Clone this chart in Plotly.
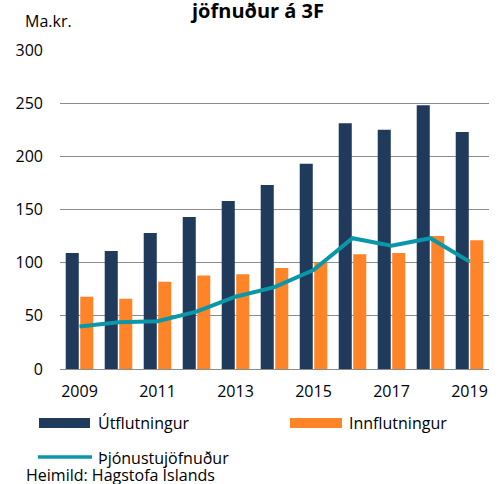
import plotly.graph_objects as go

years = [str(y) for y in range(2009, 2020)]
tick_labels = ["2009", "2011", "2013", "2015", "2017", "2019"]
utflutningur = [109, 111, 128, 143, 158, 173, 193, 231, 225, 248, 223]
innflutningur = [68, 66, 82, 88, 89, 95, 100, 108, 109, 125, 121]
thjonustujofnudur = [40, 44, 45, 54, 68, 77, 93, 123, 116, 123, 101]
series_names = ["Útflutningur", "Innflutningur", "Þjónustujöfnuður"]
y_ticks = [0, 50, 100, 150, 200, 250, 300]

NAVY = "#1F3A5A"
ORANGE = "#FF8427"
TEAL = "#0A97A8"
FONT = "Open Sans"
FS = 16

W, H = 501, 484
ML, MR, MT, MB = 60, 12, 50, 115
PW, PH = W - ML - MR, H - MT - MB

def px(x):
    return (x - ML) / PW

def py(y):
    return (H - MB - y) / PH

fig = go.Figure()
fig.add_trace(go.Bar(x=years, y=utflutningur, name=series_names[0],
                     marker=dict(color=NAVY, line=dict(width=0))))
fig.add_trace(go.Bar(x=years, y=innflutningur, name=series_names[1],
                     marker=dict(color=ORANGE, line=dict(width=0))))
fig.add_trace(go.Scatter(x=years, y=thjonustujofnudur, name=series_names[2],
                         mode="lines", line=dict(color=TEAL, width=4)))

shapes = [
    dict(type="rect", xref="paper", yref="paper", x0=px(39), x1=px(90), y0=py(428), y1=py(418),
         fillcolor=NAVY, line=dict(width=0)),
    dict(type="rect", xref="paper", yref="paper", x0=px(290), x1=px(342), y0=py(428), y1=py(418),
         fillcolor=ORANGE, line=dict(width=0)),
    dict(type="line", xref="paper", yref="paper", x0=px(38), x1=px(92), y0=py(457), y1=py(457),
         line=dict(color=TEAL, width=3.5)),
]

annotations = [
    dict(text="Ma.kr.", x=px(23), y=py(21), xanchor="left", yanchor="middle"),
    dict(text="<b>jöfnuður á 3F</b>", x=px(257), y=py(10),
         xanchor="center", yanchor="middle", font=dict(size=20, color="#000000", family=FONT)),
    dict(text=series_names[0], x=px(96), y=py(423), xanchor="left", yanchor="middle"),
    dict(text=series_names[1], x=px(347), y=py(423), xanchor="left", yanchor="middle"),
    dict(text=series_names[2], x=px(96), y=py(458), xanchor="left", yanchor="middle"),
    dict(text="Heimild: Hagstofa Íslands", x=px(24), y=py(475), xanchor="left", yanchor="middle"),
]
for a in annotations:
    a.update(xref="paper", yref="paper", showarrow=False)
    a.setdefault("font", dict(size=FS, color="#000000", family=FONT))

fig.update_layout(
    width=W, height=H,
    margin=dict(l=ML, r=MR, t=MT, b=MB, pad=0),
    paper_bgcolor="white", plot_bgcolor="white",
    showlegend=False,
    barmode="group", bargap=0.256, bargroupgap=0.1,
    font=dict(family=FONT, size=FS, color="#000000"),
    shapes=shapes, annotations=annotations,
)
fig.update_xaxes(type="category", tickmode="array", tickvals=tick_labels, ticktext=tick_labels,
                 showgrid=False, showline=False, ticks="", ticklabelstandoff=11,
                 tickfont=dict(size=FS, family=FONT, color="#000000"))
fig.update_yaxes(range=[0, 300], tickmode="array", tickvals=y_ticks,
                 showgrid=True, gridcolor="#8C8C8C", gridwidth=1.3, zeroline=True,
                 zerolinecolor="#8C8C8C", zerolinewidth=1.3, showline=False, ticks="",
                 ticklabelstandoff=16, tickfont=dict(size=FS, family=FONT, color="#000000"))

fig.write_html("out.html", config={"displayModeBar": False},
               post_script="document.body.style.margin='0px';")
